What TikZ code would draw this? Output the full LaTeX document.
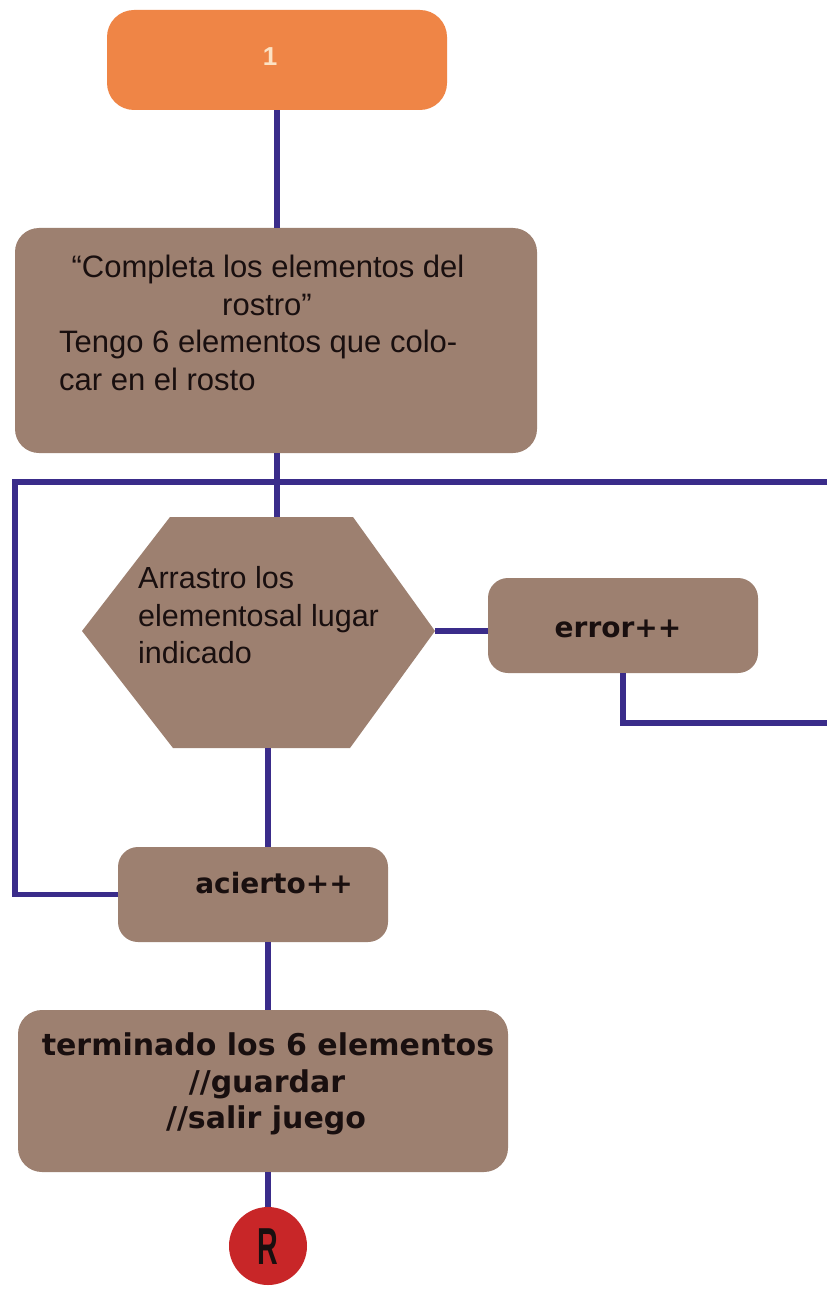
\documentclass[tikz,border=0pt]{standalone}
\usepackage{fontspec}
\setmainfont{Liberation Sans}
\newfontfamily\heavy{DejaVu Sans}
\definecolor{flow}{RGB}{58,44,138}
\definecolor{boxbrown}{RGB}{157,128,112}
\definecolor{startor}{RGB}{239,133,70}
\definecolor{endred}{RGB}{200,38,40}
\definecolor{onetxt}{RGB}{252,226,196}
\definecolor{ink}{RGB}{25,15,15}
\begin{document}
\begin{tikzpicture}[x=1pt,y=-1pt,
  box/.style={draw=none,fill=boxbrown,rounded corners=24pt,inner sep=0pt},
  conn/.style={draw=flow,line width=5.5pt},
  plain/.style={text=ink,inner sep=0pt,font=\fontsize{31}{36}\selectfont},
  bold/.style={text=ink,inner sep=0pt,font=\heavy\bfseries\fontsize{28}{34}\selectfont},
  bigbold/.style={text=ink,inner sep=0pt,font=\heavy\bfseries\fontsize{30}{34}\selectfont}]
\useasboundingbox (0,0) rectangle (827,1289);
\fill[white] (0,0) rectangle (827,1289);

% start box
\node[box,fill=startor,rounded corners=27pt,minimum width=340pt,minimum height=100pt] (start) at (277,60) {};
\node[text=onetxt,inner sep=0pt,font=\bfseries\fontsize{26}{30}\selectfont] (startt) at (270,57) {1};

% intro box
\node[box,minimum width=522pt,minimum height=225pt] (intro) at (276,340.5) {};
\node[plain,anchor=base] (intro1) at (268,277) {“Completa los elementos del};
\node[plain,anchor=base] (intro2) at (267,315) {rostro”};
\node[plain,anchor=base west] (intro3) at (59,352) {Tengo 6 elementos que colo-};
\node[plain,anchor=base west] (intro4) at (59,390) {car en el rosto};

% hexagon
\fill[boxbrown] (170,517) -- (353,517) -- (435,631) -- (350,748) -- (173,748) -- (82,631) -- cycle;
\coordinate (hexT) at (277,517);
\coordinate (hexR) at (435,631);
\coordinate (hexB) at (268,748);
\node[plain,anchor=base west,font=\fontsize{30.5}{36}\selectfont] (hex1) at (138,588) {Arrastro los};
\node[plain,anchor=base west,font=\fontsize{30.5}{36}\selectfont] (hex2) at (138,626) {elementosal lugar};
\node[plain,anchor=base west,font=\fontsize{30.5}{36}\selectfont] (hex3) at (138,663) {indicado};

% error box
\node[box,rounded corners=20pt,minimum width=270pt,minimum height=95pt] (error) at (623,625.5) {};
\node[bold,anchor=base] (errort) at (618,637) {error++};

% acierto box
\node[box,rounded corners=20pt,minimum width=270pt,minimum height=95pt] (acierto) at (253,894.5) {};
\node[bold,anchor=base] (aciertot) at (274,893) {acierto++};

% final box
\node[box,rounded corners=24pt,minimum width=490pt,minimum height=162pt] (fin) at (263,1091) {};
\node[bigbold,anchor=base] (fin1) at (268,1055) {terminado los 6 elementos};
\node[bigbold,anchor=base] (fin2) at (267,1092) {//guardar};
\node[bigbold,anchor=base] (fin3) at (266,1128) {//salir juego};

% end circle
\node[circle,fill=endred,minimum size=78pt,inner sep=0pt] (endc) at (268,1246) {};
\node[text=ink,inner sep=0pt,font=\bfseries\fontsize{52}{56}\selectfont] (endt) at (268,1247) {\scalebox{0.55}[1]{R}};

% free ends
\coordinate (loopR) at (827,482);
\coordinate (loopL) at (15,482);
\coordinate (errR) at (827,723);

% connectors
\draw[conn] (start.south) -- (start.south |- intro.north);
\draw[conn] (intro.south -| hexT) -- (hexT);
\draw[conn] (loopR) -- (loopL) -- (loopL |- acierto.west) -- (acierto.west);
\draw[conn] (hexR) -- (hexR -| error.west);
\draw[conn] (error.south) |- (errR);
\draw[conn] (hexB) -- (hexB |- acierto.north);
\draw[conn] (acierto.south -| hexB) -- (hexB |- fin.north);
\draw[conn] (fin.south -| endc.north) -- (endc.north);
\end{tikzpicture}
\end{document}
